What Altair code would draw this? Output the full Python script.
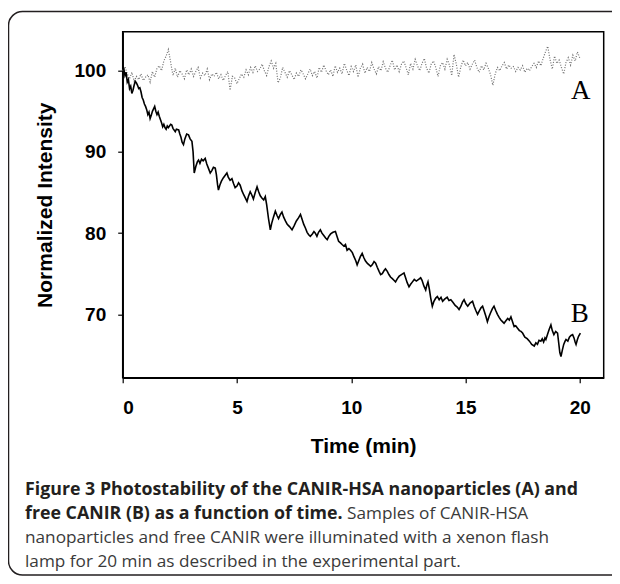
import altair as alt
import pandas as pd

# ---------------- data ----------------
time_b = [0.0, 0.05, 0.1, 0.15, 0.2, 0.25, 0.3, 0.35, 0.4, 0.45, 0.5, 0.55, 0.6, 0.65, 0.7, 0.75, 0.8, 0.85, 0.9, 0.95,
          1.0, 1.05, 1.1, 1.15, 1.2, 1.25, 1.3, 1.35, 1.4, 1.45, 1.5, 1.55, 1.6, 1.65, 1.7, 1.75, 1.8, 1.85, 1.9, 1.95,
          2.0, 2.1, 2.15, 2.2, 2.3, 2.35, 2.45, 2.5, 2.55, 2.6, 2.66, 2.72, 2.8, 2.88, 2.95, 3.03, 3.08, 3.13, 3.2, 3.27,
          3.32, 3.38, 3.45, 3.52, 3.61, 3.68, 3.75, 3.83, 3.9, 3.97, 4.05, 4.1, 4.15, 4.19, 4.25, 4.32, 4.4, 4.48, 4.56, 4.62,
          4.7, 4.78, 4.85, 4.92, 5.0, 5.07, 5.14, 5.22, 5.3, 5.37, 5.44, 5.5, 5.58, 5.65, 5.72, 5.8, 5.88, 5.95, 6.02, 6.1,
          6.17, 6.24, 6.3, 6.38, 6.46, 6.52, 6.6, 6.68, 6.75, 6.82, 6.9, 6.97, 7.04, 7.12, 7.2, 7.3, 7.41, 7.5, 7.6, 7.7,
          7.78, 7.85, 7.92, 8.0, 8.07, 8.14, 8.21, 8.3, 8.37, 8.43, 8.5, 8.57, 8.65, 8.72, 8.8, 8.88, 8.95, 9.02, 9.1, 9.2,
          9.31, 9.38, 9.45, 9.53, 9.6, 9.68, 9.75, 9.82, 9.9, 9.97, 10.05, 10.12, 10.2, 10.26, 10.33, 10.4, 10.48, 10.55, 10.62, 10.7,
          10.78, 10.85, 10.92, 11.0, 11.07, 11.14, 11.22, 11.29, 11.36, 11.44, 11.5, 11.58, 11.65, 11.72, 11.8, 11.87, 11.94, 12.02, 12.1, 12.2,
          12.31, 12.38, 12.45, 12.53, 12.6, 12.68, 12.76, 12.85, 12.95, 13.04, 13.1, 13.18, 13.26, 13.31, 13.36, 13.42, 13.48, 13.55, 13.62, 13.7,
          13.77, 13.85, 13.93, 14.0, 14.1, 14.2, 14.28, 14.36, 14.45, 14.55, 14.64, 14.72, 14.8, 14.87, 14.94, 15.02, 15.1, 15.2, 15.31, 15.38,
          15.45, 15.53, 15.6, 15.68, 15.75, 15.82, 15.89, 15.96, 16.03, 16.1, 16.18, 16.25, 16.32, 16.4, 16.48, 16.55, 16.62, 16.69, 16.77, 16.85,
          16.92, 16.99, 17.06, 17.13, 17.2, 17.28, 17.36, 17.43, 17.5, 17.6, 17.7, 17.8, 17.9, 18.01, 18.08, 18.15, 18.22, 18.3, 18.36, 18.42,
          18.48, 18.52, 18.6, 18.67, 18.74, 18.8, 18.87, 18.95, 19.03, 19.08, 19.13, 19.18, 19.24, 19.3, 19.36, 19.4, 19.48, 19.55, 19.62, 19.69,
          19.75, 19.8, 19.84, 19.9, 19.95, 20.03]
intensity_b = [100.5, 100.2, 99.4, 99.8, 98.6, 98.9, 97.8, 98.1, 97.2, 97.6, 98.2, 98.7, 98.5, 98.2, 97.8, 97.9, 97.4, 96.7, 96.4, 95.9,
               95.6, 95.2, 94.6, 94.9, 94.1, 94.5, 95.0, 95.3, 95.6, 95.0, 94.6, 94.9, 94.4, 94.0, 93.6, 93.1, 93.4, 93.0, 92.8, 93.2,
               93.0, 93.4, 93.3, 92.9, 92.5, 92.8, 92.7, 92.2, 91.8, 91.2, 90.9, 91.6, 92.2, 92.1, 91.6, 91.3, 90.0, 87.4, 88.2, 88.8,
               89.0, 88.6, 89.1, 88.9, 89.2, 88.5, 88.0, 87.4, 87.7, 88.1, 88.0, 87.2, 86.0, 85.3, 85.9, 86.4, 86.8, 87.1, 87.4, 86.9,
               86.5, 86.7, 86.1, 85.6, 85.8, 86.2, 85.9, 85.2, 84.7, 84.3, 83.9, 84.5, 85.1, 84.7, 84.2, 85.0, 85.7, 85.1, 84.6, 84.3,
               84.1, 84.5, 83.5, 81.8, 80.4, 81.2, 82.0, 82.7, 82.2, 81.8, 82.3, 82.6, 82.0, 81.5, 81.1, 80.8, 80.4, 80.9, 81.5, 81.9,
               82.3, 81.7, 81.1, 80.6, 80.1, 79.8, 79.6, 79.9, 80.2, 80.0, 79.6, 80.1, 80.4, 80.0, 79.7, 79.4, 79.2, 79.6, 79.9, 80.1,
               80.2, 79.6, 79.0, 78.8, 78.6, 78.4, 78.6, 77.9, 78.1, 77.9, 77.6, 77.1, 76.6, 76.1, 76.6, 77.1, 77.5, 77.0, 76.6, 76.3,
               76.1, 75.9, 76.1, 76.5, 76.3, 75.8, 75.3, 74.9, 75.0, 75.4, 75.6, 75.3, 74.9, 74.6, 74.4, 74.2, 74.0, 74.4, 74.7, 74.9,
               75.1, 74.5, 73.9, 73.4, 73.7, 74.0, 74.3, 74.1, 74.3, 74.5, 74.2, 73.5, 73.0, 73.6, 74.0, 73.1, 72.0, 71.0, 71.6, 72.0,
               72.2, 71.8, 72.1, 71.6, 71.9, 72.1, 71.7, 71.8, 71.5, 71.1, 70.9, 70.6, 71.0, 71.5, 71.8, 71.3, 71.0, 71.4, 71.6, 71.0,
               70.5, 70.0, 70.4, 70.8, 71.0, 70.4, 69.8, 69.1, 69.7, 70.2, 70.7, 71.0, 70.5, 70.0, 69.6, 69.3, 69.1, 68.9, 69.2, 69.5,
               69.3, 69.7, 69.1, 68.5, 68.6, 68.3, 68.0, 67.9, 67.7, 67.2, 67.0, 66.7, 66.3, 66.1, 66.5, 66.3, 66.8, 66.7, 67.0, 66.6,
               67.1, 66.9, 67.6, 68.2, 68.7, 68.0, 67.5, 67.9, 67.7, 66.5, 65.3, 64.8, 65.6, 66.3, 66.7, 66.9, 66.7, 67.2, 67.4, 67.5,
               67.1, 66.6, 66.3, 66.9, 67.3, 67.7]

intensity_a = [100.0, 100.5, 99.6, 99.0, 99.8, 98.7, 99.3, 98.9, 99.6, 98.8,
               99.2, 99.5, 98.6, 99.9, 99.2, 100.3, 100.6, 100.0, 101.2, 101.8,
               102.6, 101.0, 99.4, 100.3, 99.2, 100.0, 99.6, 99.0, 100.1, 99.5,
               100.2, 99.3, 99.9, 100.4, 99.1, 99.7, 99.4, 100.2, 98.9, 99.6,
               99.3, 99.8, 99.0, 99.5, 98.8, 99.4, 99.9, 97.6, 99.3, 99.1,
               98.4, 99.0, 99.6, 99.2, 100.1, 99.5, 100.4, 99.8, 100.6, 99.9,
               100.2, 100.8, 100.0, 99.4, 100.5, 101.2, 100.3, 100.9, 98.5, 99.1,
               100.4, 99.8, 99.2, 100.0, 99.5, 98.9, 99.7, 99.3, 100.1, 99.6,
               99.0, 99.6, 100.2, 99.4, 99.9, 99.1, 100.4, 99.8, 100.7, 100.0,
               99.5, 100.1, 99.3, 100.6, 99.8, 100.3, 99.6, 100.9, 100.1, 99.4,
               100.5, 99.9, 100.7, 99.2, 100.3, 100.8, 99.7, 100.4, 99.9, 101.0,
               100.2, 99.6, 100.5, 100.0, 101.1, 100.3, 99.8, 100.6, 101.3, 100.1,
               100.7, 99.9, 100.8, 101.2, 100.4, 99.5, 100.9, 100.2, 101.4, 100.6,
               100.0, 100.9, 101.5, 100.3, 99.7, 100.8, 101.2, 100.4, 99.3, 100.6,
               101.0, 100.2, 101.4, 100.7, 99.4, 102.0, 100.8, 99.2, 100.5, 101.3,
               100.6, 101.0, 100.2, 100.8, 101.3, 100.4, 99.8, 100.6, 100.1, 100.9,
               100.3, 99.5, 98.2, 99.6, 100.4, 100.0, 100.6, 101.0, 100.2, 100.7,
               100.3, 100.5, 99.9, 100.4, 100.1, 100.6, 99.8, 100.3, 100.0, 100.5,
               100.9, 100.4, 101.2, 100.6, 101.5, 102.3, 103.0, 101.4, 100.2, 101.8,
               100.9, 101.3, 100.4, 99.6, 101.0, 101.6, 100.7, 101.9, 101.2, 102.3,
               101.6]
time_a = [round(i * 0.1, 1) for i in range(len(intensity_a))]

x_ticks = [0, 5, 10, 15, 20]
y_ticks = [70, 80, 90, 100]
curve_labels = ["A", "B"]
label_time = [20.05, 20.0]
label_value = [97.5, 70.0]

caption_bold_1 = "Figure 3 Photostability of the CANIR-HSA nanoparticles (A) and"
caption_bold_2 = "free CANIR (B) as a function of time."
caption_norm_2 = "Samples of CANIR-HSA"
caption_norm_3 = "nanoparticles and free CANIR were illuminated with a xenon flash"
caption_norm_4 = "lamp for 20 min as described in the experimental part."

# ---------------- chart ----------------
W, H = 481, 346
OX, OY = 122.7, 31.7  # absolute position of plot origin on the page

df_a = pd.DataFrame({"t": time_a, "v": intensity_a})
df_b = pd.DataFrame({"t": time_b, "v": intensity_b})
df_lab = pd.DataFrame({"t": label_time, "v": label_value, "lab": curve_labels})
one = pd.DataFrame({"k": [0]})

xs = alt.Scale(domain=[0, 21.05], nice=False)
ys = alt.Scale(domain=[62.2, 104.8], nice=False, zero=False)

x_axis = alt.Axis(values=x_ticks, title="Time (min)", grid=False, tickSize=5, labelPadding=16,
                  titleX=W / 2, titleY=58, titleBaseline="top", format="d")
y_axis = alt.Axis(values=y_ticks, title="Normalized Intensity", grid=False, tickSize=5, labelPadding=12,
                  titleX=45 - OX, titleY=H / 2, titleBaseline="middle", titleAngle=-90, format="d")

line_a = alt.Chart(df_a).mark_line(color="#707070", strokeWidth=1.2, strokeDash=[1, 1.6]).encode(
    x=alt.X("t:Q", scale=xs, axis=x_axis),
    y=alt.Y("v:Q", scale=ys, axis=y_axis),
)
line_b = alt.Chart(df_b).mark_line(color="black", strokeWidth=1.6).encode(
    x=alt.X("t:Q", scale=xs),
    y=alt.Y("v:Q", scale=ys),
)
labels = alt.Chart(df_lab).mark_text(font="Liberation Serif", fontSize=27, color="black",
                                     align="center", baseline="middle").encode(
    x=alt.X("t:Q", scale=xs), y=alt.Y("v:Q", scale=ys), text="lab:N")

frame = alt.Chart(one).mark_rect(fill=None, stroke="#231f20", strokeWidth=1.5, cornerRadius=14).encode(
    x=alt.value(8.5 - OX), x2=alt.value(660 - OX),
    y=alt.value(11.5 - OY), y2=alt.value(575 - OY))


def cap(txt, x, y, bold, size, color):
    return alt.Chart(one).mark_text(text=txt, font="Open Sans", fontSize=size,
                                    fontWeight="bold" if bold else "normal",
                                    align="left", baseline="alphabetic", color=color).encode(
        x=alt.value(x - OX), y=alt.value(y - OY))


BOLD_SIZE, NORM_SIZE = 17.8, 17.2
captions = [
    cap(caption_bold_1, 25, 495, True, BOLD_SIZE, "#231f20"),
    cap(caption_bold_2, 25, 519, True, BOLD_SIZE, "#231f20"),
    cap(caption_norm_2, 347, 519, False, NORM_SIZE, "#3a3a3a"),
    cap(caption_norm_3, 25, 543, False, NORM_SIZE, "#3a3a3a"),
    cap(caption_norm_4, 25, 567, False, NORM_SIZE, "#3a3a3a"),
]

chart = alt.layer(line_a, line_b, labels, frame, *captions).properties(
    width=W, height=H,
    autosize=alt.AutoSizeParams(type="none"),
    padding={"left": OX - 8, "top": OY - 8, "right": 604 - (OX - 8) - W, "bottom": 568 - (OY - 8) - H},
    background="white",
).configure_view(stroke="black", strokeWidth=1.5).configure_axis(
    labelFont="Liberation Sans", labelFontSize=19, labelFontWeight="bold", labelColor="black",
    titleFont="Liberation Sans", titleFontSize=21, titleFontWeight="bold", titleColor="black",
    domainColor="black", domainWidth=1.5, tickColor="black", tickWidth=1.2,
)

chart.save("out.html", embed_options={"renderer": "svg", "actions": False})
